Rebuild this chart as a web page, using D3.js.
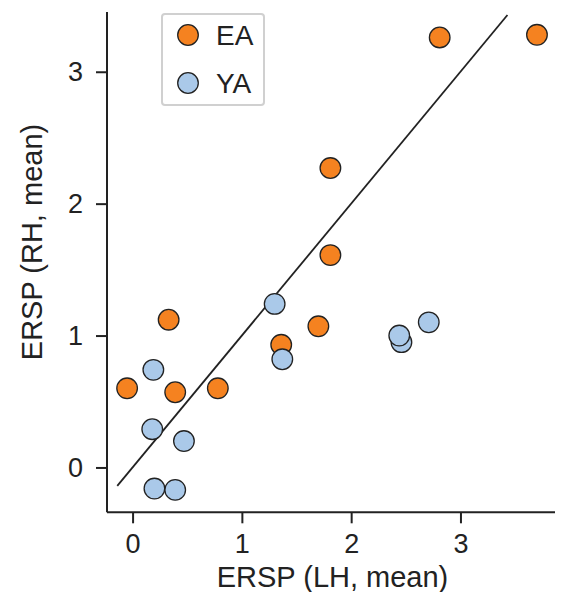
<!DOCTYPE html>
<html>
<head>
<meta charset="utf-8">
<script src="https://cdn.jsdelivr.net/npm/d3@7"></script>
<style>
  html, body { margin: 0; padding: 0; background: #fff; }
  svg { display: block; }
  text { font-family: "Liberation Sans", Arial, Helvetica, sans-serif; fill: #222; }
</style>
</head>
<body>
<svg id="chart" width="561" height="592"></svg>
<script>
// ---- data ----
const groups = ["EA", "YA"];
const eaX = [-0.05, 0.33, 0.39, 0.78, 1.36, 1.70, 1.81, 1.81, 2.81, 3.70];
const eaY = [0.60, 1.12, 0.57, 0.60, 0.93, 1.07, 1.61, 2.27, 3.26, 3.28];
const yaX = [0.19, 0.18, 0.47, 0.20, 0.39, 1.30, 1.37, 2.46, 2.44, 2.71];
const yaY = [0.74, 0.29, 0.20, -0.16, -0.17, 1.24, 0.82, 0.95, 1.00, 1.10];
const xTicks = [0, 1, 2, 3];
const yTicks = [0, 1, 2, 3];
const identityLine = [-0.14, 3.43];
const xLabel = "ERSP (LH, mean)";
const yLabel = "ERSP (RH, mean)";
const colors = { EA: "#f58220", YA: "#aac9e9" };

// ---- layout ----
const svg = d3.select("#chart");
const x = d3.scaleLinear().domain([-0.234, 3.865]).range([107, 555]);
const y = d3.scaleLinear().domain([-0.34, 3.453]).range([512.3, 12]);

// axes
const xAxis = d3.axisBottom(x).tickValues(xTicks).tickSize(11).tickPadding(11).tickFormat(d3.format("d"));
const yAxis = d3.axisLeft(y).tickValues(yTicks).tickSize(11).tickPadding(13).tickFormat(d3.format("d"));

const gx = svg.append("g").attr("transform", "translate(0,512.3)").call(xAxis);
const gy = svg.append("g").attr("transform", "translate(107,0)").call(yAxis);
[gx, gy].forEach(g => {
  g.select(".domain").attr("stroke", "#222").attr("stroke-width", 2);
  g.selectAll(".tick line").attr("stroke", "#222").attr("stroke-width", 2);
  g.selectAll(".tick text").attr("fill", "#222").style("font-size", "27px")
    .style("font-family", '"Liberation Sans", Arial, sans-serif');
});
gx.select(".domain").attr("d", `M${x.range()[0]},0H${x.range()[1]}`);
gy.select(".domain").attr("d", `M0,${y.range()[0]}V${y.range()[1]}`);

// identity line
svg.append("line")
  .attr("x1", x(identityLine[0])).attr("y1", y(identityLine[0]))
  .attr("x2", x(identityLine[1])).attr("y2", y(identityLine[1]))
  .attr("stroke", "#222").attr("stroke-width", 1.8);

// points
const ea = eaX.map((v, i) => ({ x: v, y: eaY[i], g: "EA" }));
const ya = yaX.map((v, i) => ({ x: v, y: yaY[i], g: "YA" }));
svg.append("g").selectAll("circle").data(ea.concat(ya)).join("circle")
  .attr("cx", d => x(d.x)).attr("cy", d => y(d.y)).attr("r", 10.3)
  .attr("fill", d => colors[d.g]).attr("stroke", "#222").attr("stroke-width", 1.3);

// axis labels
svg.append("text").attr("x", 332.5).attr("y", 587).attr("text-anchor", "middle")
  .style("font-size", "29px").text(xLabel);
svg.append("text").attr("transform", "translate(42,242) rotate(-90)").attr("text-anchor", "middle")
  .style("font-size", "29px").text(yLabel);

// legend
const lg = svg.append("g");
lg.append("rect").attr("x", 162).attr("y", 14).attr("width", 102).attr("height", 91)
  .attr("rx", 3).attr("fill", "#fff").attr("stroke", "#d0d0d0").attr("stroke-width", 2);
groups.forEach((gname, i) => {
  const cy = 35 + i * 48;
  lg.append("circle").attr("cx", 188).attr("cy", cy).attr("r", 10.3)
    .attr("fill", colors[gname]).attr("stroke", "#222").attr("stroke-width", 1.3);
  lg.append("text").attr("x", 216).attr("y", cy).attr("dy", "0.36em")
    .style("font-size", "28px").text(gname);
});
</script>
</body>
</html>
